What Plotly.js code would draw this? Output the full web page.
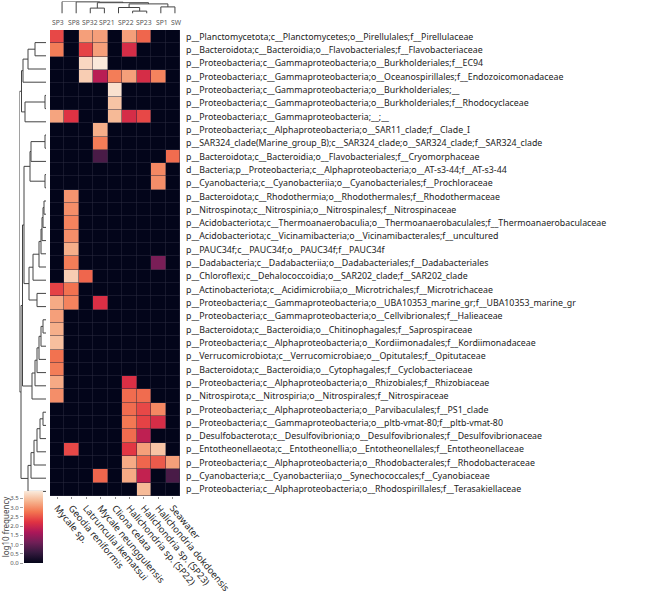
<!DOCTYPE html>
<html>
<head>
<meta charset="utf-8">
<script src="https://cdn.plot.ly/plotly-3.0.1.min.js"></script>
<style>html,body{margin:0;padding:0;background:#fff}#chart{width:669px;height:596px}</style>
</head>
<body>
<div id="chart"></div>
<script>
// ---------- data ----------
const colLabels = ["Mycale sp.", "Geodia reniformis", "Latrunculia ikematsui", "Mycale neunggulensis",
  "Cliona celata", "Halichondria sp. (SP22)", "Halichondria sp. (SP23)", "Halichondria dokdoensis", "Seawater"];
const topCodes = ["SP3", "SP8", "SP32", "SP21", "SP22", "SP23", "SP1", "SW"];
const rowLabels = [
  "p__Planctomycetota;c__Planctomycetes;o__Pirellulales;f__Pirellulaceae",
  "p__Bacteroidota;c__Bacteroidia;o__Flavobacteriales;f__Flavobacteriaceae",
  "p__Proteobacteria;c__Gammaproteobacteria;o__Burkholderiales;f__EC94",
  "p__Proteobacteria;c__Gammaproteobacteria;o__Oceanospirillales;f__Endozoicomonadaceae",
  "p__Proteobacteria;c__Gammaproteobacteria;o__Burkholderiales;__",
  "p__Proteobacteria;c__Gammaproteobacteria;o__Burkholderiales;f__Rhodocyclaceae",
  "p__Proteobacteria;c__Gammaproteobacteria;__;__",
  "p__Proteobacteria;c__Alphaproteobacteria;o__SAR11_clade;f__Clade_I",
  "p__SAR324_clade(Marine_group_B);c__SAR324_clade;o__SAR324_clade;f__SAR324_clade",
  "p__Bacteroidota;c__Bacteroidia;o__Flavobacteriales;f__Cryomorphaceae",
  "d__Bacteria;p__Proteobacteria;c__Alphaproteobacteria;o__AT-s3-44;f__AT-s3-44",
  "p__Cyanobacteria;c__Cyanobacteriia;o__Cyanobacteriales;f__Prochloraceae",
  "p__Bacteroidota;c__Rhodothermia;o__Rhodothermales;f__Rhodothermaceae",
  "p__Nitrospinota;c__Nitrospinia;o__Nitrospinales;f__Nitrospinaceae",
  "p__Acidobacteriota;c__Thermoanaerobaculia;o__Thermoanaerobaculales;f__Thermoanaerobaculaceae",
  "p__Acidobacteriota;c__Vicinamibacteria;o__Vicinamibacterales;f__uncultured",
  "p__PAUC34f;c__PAUC34f;o__PAUC34f;f__PAUC34f",
  "p__Dadabacteria;c__Dadabacteriia;o__Dadabacteriales;f__Dadabacteriales",
  "p__Chloroflexi;c__Dehalococcoidia;o__SAR202_clade;f__SAR202_clade",
  "p__Actinobacteriota;c__Acidimicrobiia;o__Microtrichales;f__Microtrichaceae",
  "p__Proteobacteria;c__Gammaproteobacteria;o__UBA10353_marine_gr;f__UBA10353_marine_gr",
  "p__Proteobacteria;c__Gammaproteobacteria;o__Cellvibrionales;f__Halieaceae",
  "p__Bacteroidota;c__Bacteroidia;o__Chitinophagales;f__Saprospiraceae",
  "p__Proteobacteria;c__Alphaproteobacteria;o__Kordiimonadales;f__Kordiimonadaceae",
  "p__Verrucomicrobiota;c__Verrucomicrobiae;o__Opitutales;f__Opitutaceae",
  "p__Bacteroidota;c__Bacteroidia;o__Cytophagales;f__Cyclobacteriaceae",
  "p__Proteobacteria;c__Alphaproteobacteria;o__Rhizobiales;f__Rhizobiaceae",
  "p__Nitrospirota;c__Nitrospiria;o__Nitrospirales;f__Nitrospiraceae",
  "p__Proteobacteria;c__Alphaproteobacteria;o__Parvibaculales;f__PS1_clade",
  "p__Proteobacteria;c__Gammaproteobacteria;o__pltb-vmat-80;f__pltb-vmat-80",
  "p__Desulfobacterota;c__Desulfovibrionia;o__Desulfovibrionales;f__Desulfovibrionaceae",
  "p__Entotheonellaeota;c__Entotheonellia;o__Entotheonellales;f__Entotheonellaceae",
  "p__Proteobacteria;c__Alphaproteobacteria;o__Rhodobacterales;f__Rhodobacteraceae",
  "p__Cyanobacteria;c__Cyanobacteriia;o__Synechococcales;f__Cyanobiaceae",
  "p__Proteobacteria;c__Alphaproteobacteria;o__Rhodospirillales;f__Terasakiellaceae"
];
// log10 frequency, rows x columns (columns in colLabels order)
const logFreq = [
  [2.40, 0, 3.15, 3.15, 0, 3.15, 2.65, 0, 0],
  [2.85, 0, 2.35, 3.15, 0, 2.10, 0, 0, 0],
  [0, 0, 3.70, 3.88, 0, 0, 0, 0, 0],
  [0, 0, 3.60, 1.80, 2.85, 3.15, 2.10, 2.90, 0],
  [0, 0, 0, 0, 3.80, 0, 0, 0, 0],
  [0, 0, 0, 0, 3.50, 0, 0, 0, 0],
  [3.20, 2.20, 0, 0, 3.40, 2.10, 2.40, 0, 0],
  [0, 0, 0, 3.30, 0, 0, 0, 0, 0],
  [0, 0, 0, 2.85, 0, 0, 0, 0, 0],
  [0, 0, 0, 0.75, 0, 0, 0, 0, 2.70],
  [0, 0, 0, 0, 0, 0, 0, 2.95, 0],
  [0, 0, 0, 0, 0, 0, 0, 3.00, 0],
  [0, 3.05, 0, 0, 0, 0, 0, 0, 0],
  [0, 3.00, 0, 0, 0, 0, 0, 0, 0],
  [0, 2.90, 0, 0, 0, 0, 0, 0, 0],
  [0, 3.00, 0, 0, 0, 0, 0, 0, 0],
  [0, 3.30, 0, 0, 0, 0, 0, 0, 0],
  [0, 2.85, 0, 0, 0, 0, 0, 1.20, 0],
  [0, 3.60, 2.65, 0, 0, 0, 0, 0, 0],
  [2.35, 2.75, 0, 0, 0, 0, 0, 0, 0],
  [3.25, 2.90, 0, 2.15, 0, 0, 0, 0, 0],
  [3.15, 0, 0, 0, 0, 0, 0, 0, 0],
  [3.30, 0, 0, 0, 0, 0, 0, 0, 0],
  [3.45, 0, 0, 0, 0, 0, 0, 0, 0],
  [2.75, 0, 0, 0, 0, 0, 0, 0, 0],
  [2.85, 0, 0, 0, 0, 0, 0, 0, 0],
  [3.25, 0, 0, 0, 0, 2.15, 0, 0, 0],
  [3.00, 0, 0, 0, 0, 2.70, 2.70, 0, 0],
  [0, 0, 0, 0, 0, 2.70, 2.40, 2.95, 0],
  [0, 0, 0, 0, 0, 2.80, 2.35, 2.10, 0],
  [0, 0, 0, 0, 0, 2.70, 1.85, 0, 0],
  [0, 2.40, 0, 0, 0, 2.25, 3.15, 3.50, 0],
  [0, 0, 0, 0, 0, 3.25, 2.65, 2.55, 3.15],
  [0, 0, 0, 2.65, 0, 3.25, 1.90, 0, 0.75],
  [0, 0, 0, 0, 0, 0, 3.40, 0, 0]
];
const cbTicks = [0, 0.5, 1, 1.5, 2, 2.5, 3, 3.5];
const zMax = 3.9;
// dendrograms: [left, right, height]; leaves are row/column indices
const colTree = [0, [1, [[2, 3, 0.45], [[4, [5, 6, 0.2], 0.5], [7, 8, 0.55], 0.8], 0.9], 0.97], 1.0];
const rowTree = [
  [ [[[0, 1, 11], 2, 18], 3, 23],
    [[4, 5, 1], 6, 21], 24.5],
  [ [ [ [[[7, 8, 1], 9, 15], [10, 11, 1], 16],
        [[[[[[[12, 13, 2], 14, 3], 15, 4], 16, 5], 17, 7], 18, 13], [19, 20, 9], 17], 22],
      [[[[[[21, 22, 3], 23, 5], 24, 7], 25, 9], 26, 11], 27, 14], 23.5],
    [[[[[[28, 29, 3], 30, 6], 31, 9], 32, 12], 33, 15], 34, 18], 25],
  26.5];

// ---------- helpers ----------
const W = 669, H = 596;
const px = v => v / W, py = v => 1 - v / H;
const rocket = [
  [0, '#03051A'], [0.143, '#35193E'], [0.286, '#701F57'], [0.429, '#AD1759'],
  [0.571, '#E13342'], [0.714, '#F37651'], [0.857, '#F6B48F'], [1, '#FAEBDD']
];
function dendro(node, segA, segB) {
  if (typeof node === 'number') return {p: node, h: 0};
  const l = dendro(node[0], segA, segB), r = dendro(node[1], segA, segB), h = node[2];
  segA.push(l.p, l.p, r.p, r.p, null);
  segB.push(l.h, h, h, r.h, null);
  return {p: (l.p + r.p) / 2, h: h};
}
const tX = [], tH = []; dendro(colTree, tX, tH);
const lY = [], lH = []; dendro(rowTree, lY, lH);

const font = 'Noto Sans, Open Sans, DejaVu Sans, sans-serif';
const lineStyle = {color: '#444', width: 1};

const traces = [
  {
    type: 'heatmap', z: logFreq, zmin: 0, zmax: zMax, colorscale: rocket,
    xgap: 0.5, ygap: 0.5, xaxis: 'x', yaxis: 'y', hoverinfo: 'skip',
    colorbar: {x: px(24), xanchor: 'left', y: py(563), yanchor: 'bottom',
      len: 72, lenmode: 'pixels', thickness: 19, thicknessmode: 'pixels',
      xpad: 0, ypad: 0, outlinewidth: 0, showticklabels: false, ticks: ''}
  },
  {type: 'scatter', mode: 'lines', x: tX, y: tH, xaxis: 'x2', yaxis: 'y2', line: lineStyle, hoverinfo: 'skip', connectgaps: false},
  {type: 'scatter', mode: 'lines', x: lH, y: lY, xaxis: 'x4', yaxis: 'y4', line: lineStyle, hoverinfo: 'skip', connectgaps: false},
  {type: 'scatter', mode: 'markers', x: [], y: [], xaxis: 'x3', yaxis: 'y3', hoverinfo: 'skip'}
];

const hid = {visible: false, showgrid: false, zeroline: false, fixedrange: true};
const layout = {
  width: W, height: H, margin: {l: 0, r: 0, t: 0, b: 0},
  paper_bgcolor: '#ffffff', plot_bgcolor: '#ffffff', showlegend: false,
  font: {family: font, color: '#222'},
  xaxis: {domain: [px(50), px(180)], range: [-0.5, 8.5], anchor: 'y',
    tickvals: colLabels.map((_, i) => i), ticktext: colLabels, tickangle: 50,
    tickfont: {size: 9.4, color: '#262626'}, ticks: 'outside', ticklen: 2, tickcolor: '#777', tickwidth: 0.8,
    showgrid: false, zeroline: false, showline: false, fixedrange: true},
  yaxis: {domain: [py(496), py(30)], range: [34.5, -0.5], anchor: 'x', side: 'right',
    tickvals: rowLabels.map((_, i) => i), ticktext: rowLabels,
    tickfont: {size: 8.8, color: '#222'}, ticks: '', ticklabelstandoff: 5,
    showgrid: false, zeroline: false, showline: false, fixedrange: true},
  xaxis2: Object.assign({domain: [px(55), px(182)], range: [-0.5, 8.5], anchor: 'y2'}, hid),
  yaxis2: Object.assign({domain: [py(13.5), py(1.5)], range: [0, 1], anchor: 'x2'}, hid),
  xaxis4: Object.assign({domain: [px(19.5), px(46)], range: [26.5, 0], anchor: 'y4'}, hid),
  yaxis4: Object.assign({domain: [py(498), py(36)], range: [34.5, -0.5], anchor: 'x4'}, hid),
  xaxis3: Object.assign({domain: [px(24), px(43)], range: [0, 1], anchor: 'y3'}, hid),
  yaxis3: {domain: [py(563), py(491)], range: [0, zMax], anchor: 'x3', side: 'left',
    tickvals: cbTicks, ticktext: cbTicks.map(v => v.toFixed(1)),
    tickfont: {size: 6, color: '#555'}, ticks: 'outside', ticklen: 3, tickcolor: '#888', tickwidth: 0.8,
    showgrid: false, zeroline: false, showline: false, fixedrange: true,
    title: {text: 'log10 frequency', font: {size: 8, color: '#444'}, standoff: 3}},
  shapes: [{type: 'rect', xref: 'x domain', yref: 'y domain', x0: 0, x1: 1, y0: 0, y1: 1,
    fillcolor: '#2c2c40', line: {width: 0}, layer: 'below'}],
  annotations: topCodes.map((t, i) => ({
    text: t, xref: 'paper', yref: 'paper', x: px([58, 74, 90, 107, 126, 144, 162, 176][i]), y: py(22.5),
    xanchor: 'center', yanchor: 'middle', showarrow: false, font: {size: 6.8, color: '#555'}
  }))
};
Plotly.newPlot('chart', traces, layout, {staticPlot: true, displayModeBar: false});
</script>
</body>
</html>
